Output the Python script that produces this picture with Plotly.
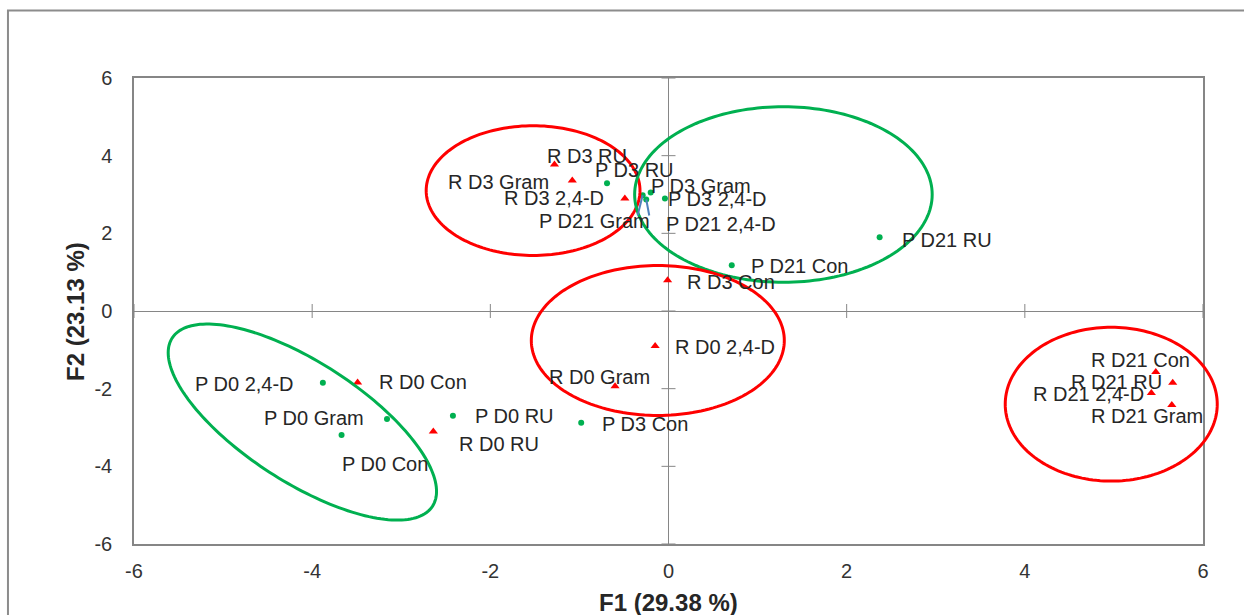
import numpy as np
import plotly.graph_objects as go

# ---- PCA scores (F1, F2) ----
r_names = ["R D3 RU", "R D3 Gram", "R D3 2,4-D", "R D3 Con", "R D0 2,4-D", "R D0 Gram",
           "R D0 Con", "R D0 RU", "R D21 Con", "R D21 RU", "R D21 2,4-D", "R D21 Gram"]
r_f1 = [-1.28, -1.08, -0.49, -0.01, -0.15, -0.60, -3.49, -2.64, 5.47, 5.66, 5.42, 5.65]
r_f2 = [3.77, 3.36, 2.90, 0.79, -0.90, -1.94, -1.84, -3.10, -1.57, -1.85, -2.11, -2.42]

p_names = ["P D3 RU", "P D3 Gram", "P D3 2,4-D", "P D21 Gram", "P D21 2,4-D", "P D21 RU",
           "P D21 Con", "P D3 Con", "P D0 RU", "P D0 2,4-D", "P D0 Gram", "P D0 Con"]
p_f1 = [-0.69, -0.20, -0.04, -0.29, -0.25, 2.37, 0.71, -0.98, -2.42, -3.88, -3.16, -3.67]
p_f2 = [3.29, 3.05, 2.90, 2.98, 2.87, 1.90, 1.18, -2.88, -2.70, -1.85, -2.78, -3.19]

x_ticks = [-6, -4, -2, 0, 2, 4, 6]
y_ticks = [-6, -4, -2, 0, 2, 4, 6]
AX_MIN, AX_MAX = -6, 6

# label placement: anchor side, dx, dy in pixels (dy positive = downwards)
label_pos = {
    "R D3 RU": ("left", -9, -9), "R D3 Gram": ("right", -21, 1), "R D3 2,4-D": ("right", -19, 0),
    "R D3 Con": ("left", 17, 2), "R D0 2,4-D": ("left", 18, 1), "R D0 Gram": ("left", -68, -9),
    "R D0 Con": ("left", 19, 0), "R D0 RU": ("left", 24, 13), "R D21 Con": ("left", -67, -12),
    "R D21 RU": ("left", -104, -1), "R D21 2,4-D": ("right", -5, 1), "R D21 Gram": ("left", -83, 11),
    "P D3 RU": ("left", -14, -13), "P D3 Gram": ("left", -2, -7), "P D3 2,4-D": ("left", 1, 1),
    "P D21 Gram": ("left", -106, 26), "P D21 2,4-D": ("left", 18, 24), "P D21 RU": ("left", 20, 3),
    "P D21 Con": ("left", 17, 1), "P D3 Con": ("left", 19, 1), "P D0 RU": ("left", 20, 0),
    "P D0 2,4-D": ("right", -27, 1), "P D0 Gram": ("right", -21, -1), "P D0 Con": ("left", -2, 29),
}

# leader lines for moved labels: point name -> (dx, dy) pixel offset of line end (dy down)
leaders = {"P D21 Gram": (-5, 20), "P D21 2,4-D": (3, 16)}

# grouping ellipses: colour, centre, conjugate semi-axis vectors U, V (data units)
ellipses = [
    ("#FF0000", (-1.52, 3.10), (1.20, 0.0), (0.0, 1.67)),
    ("#00B050", (1.29, 3.00), (1.67, 0.0), (0.0, 2.26)),
    ("#FF0000", (-0.12, -0.76), (1.42, 0.0), (0.0, 1.93)),
    ("#FF0000", (4.97, -2.40), (1.19, 0.0), (0.0, 1.98)),
    ("#00B050", (-4.11, -2.86), (1.46, -2.17), (-0.37, -1.29)),
]

RED = "#FF0000"
GREEN = "#00B050"
GRAY = "#868686"
FONT = "Liberation Sans, Arial, sans-serif"
TXT = "#262626"


def to_paper(v):
    return (np.asarray(v) - AX_MIN) / (AX_MAX - AX_MIN)


fig = go.Figure()

fig.add_trace(go.Scatter(x=r_f1, y=r_f2, mode="markers", name="R", text=r_names, cliponaxis=False,
                         marker=dict(symbol="triangle-up", size=8, color=RED, line=dict(width=0))))
fig.add_trace(go.Scatter(x=p_f1, y=p_f2, mode="markers", name="P", text=p_names, cliponaxis=False,
                         marker=dict(symbol="circle", size=6, color=GREEN, line=dict(width=0))))

shapes = []

# ellipses as closed paths (paper space so they may run past the plot frame)
t = np.linspace(0, 2 * np.pi, 181)
for col, (cx, cy), (ux, uy), (vx, vy) in ellipses:
    ex = to_paper(cx + ux * np.cos(t) + vx * np.sin(t))
    ey = to_paper(cy + uy * np.cos(t) + vy * np.sin(t))
    path = "M " + " L ".join(f"{a:.5f},{b:.5f}" for a, b in zip(ex, ey)) + " Z"
    shapes.append(dict(type="path", xref="paper", yref="paper", path=path,
                       line=dict(color=col, width=3), layer="above"))

# point labels
annotations = []
for names, xs, ys in ((r_names, r_f1, r_f2), (p_names, p_f1, p_f2)):
    for n, x, y in zip(names, xs, ys):
        side, dx, dy = label_pos[n]
        annotations.append(dict(x=x, y=y, xref="x", yref="y", text=n, showarrow=False,
                                xanchor=side, yanchor="middle", xshift=dx, yshift=-dy,
                                font=dict(family=FONT, size=20, color=TXT)))

# axis titles
annotations.append(dict(x=0.5, y=-0.1265, xref="paper", yref="paper", text="<b>F1 (29.38 %)</b>",
                        showarrow=False, xanchor="center", yanchor="middle",
                        font=dict(family=FONT, size=24, color=TXT)))
annotations.append(dict(x=-0.0552, y=0.5, xref="paper", yref="paper", text="<b>F2 (23.13 %)</b>",
                        showarrow=False, xanchor="center", yanchor="middle", textangle=-90,
                        font=dict(family=FONT, size=24, color=TXT)))

# cross tick marks on the zero lines
for v in x_ticks:
    shapes.append(dict(type="line", xref="x", yref="y", x0=v, x1=v, ysizemode="pixel",
                       yanchor=0, y0=-7, y1=7, line=dict(color=GRAY, width=1)))
for v in y_ticks:
    shapes.append(dict(type="line", xref="x", yref="y", y0=v, y1=v, xsizemode="pixel",
                       xanchor=0, x0=-7, x1=7, line=dict(color=GRAY, width=1)))

# leader lines
all_pts = dict(zip(r_names + p_names, list(zip(r_f1 + p_f1, r_f2 + p_f2))))
for n, (dx, dy) in leaders.items():
    px, py = all_pts[n]
    shapes.append(dict(type="line", xref="x", yref="y", xsizemode="pixel", ysizemode="pixel",
                       xanchor=px, yanchor=py, x0=0, x1=dx, y0=0, y1=-dy,
                       line=dict(color="#4F81BD", width=2)))

# outer chart frame
shapes.append(dict(type="rect", xref="paper", yref="paper", x0=-0.1179, x1=1.2, y0=-0.3, y1=1.1447,
                   line=dict(color="#8C8C8C", width=2), layer="below"))

axis_common = dict(showgrid=False, zeroline=True, zerolinecolor=GRAY, zerolinewidth=1,
                   showline=True, mirror=True, linecolor=GRAY, linewidth=1.5, ticks="",
                   tickfont=dict(family=FONT, size=20, color="#333333"))

fig.update_layout(
    width=1244, height=615,
    margin=dict(l=134, r=41, t=78, b=71),
    paper_bgcolor="white", plot_bgcolor="white",
    showlegend=False,
    xaxis=dict(range=[AX_MIN, AX_MAX], tickvals=x_ticks, ticktext=[str(v) for v in x_ticks],
               ticklabelstandoff=8, **axis_common),
    yaxis=dict(range=[AX_MIN, AX_MAX], tickvals=y_ticks, ticktext=[str(v) for v in y_ticks],
               ticklabelstandoff=16, **axis_common),
    annotations=annotations,
    shapes=shapes,
)

fig.write_html("out.html")
